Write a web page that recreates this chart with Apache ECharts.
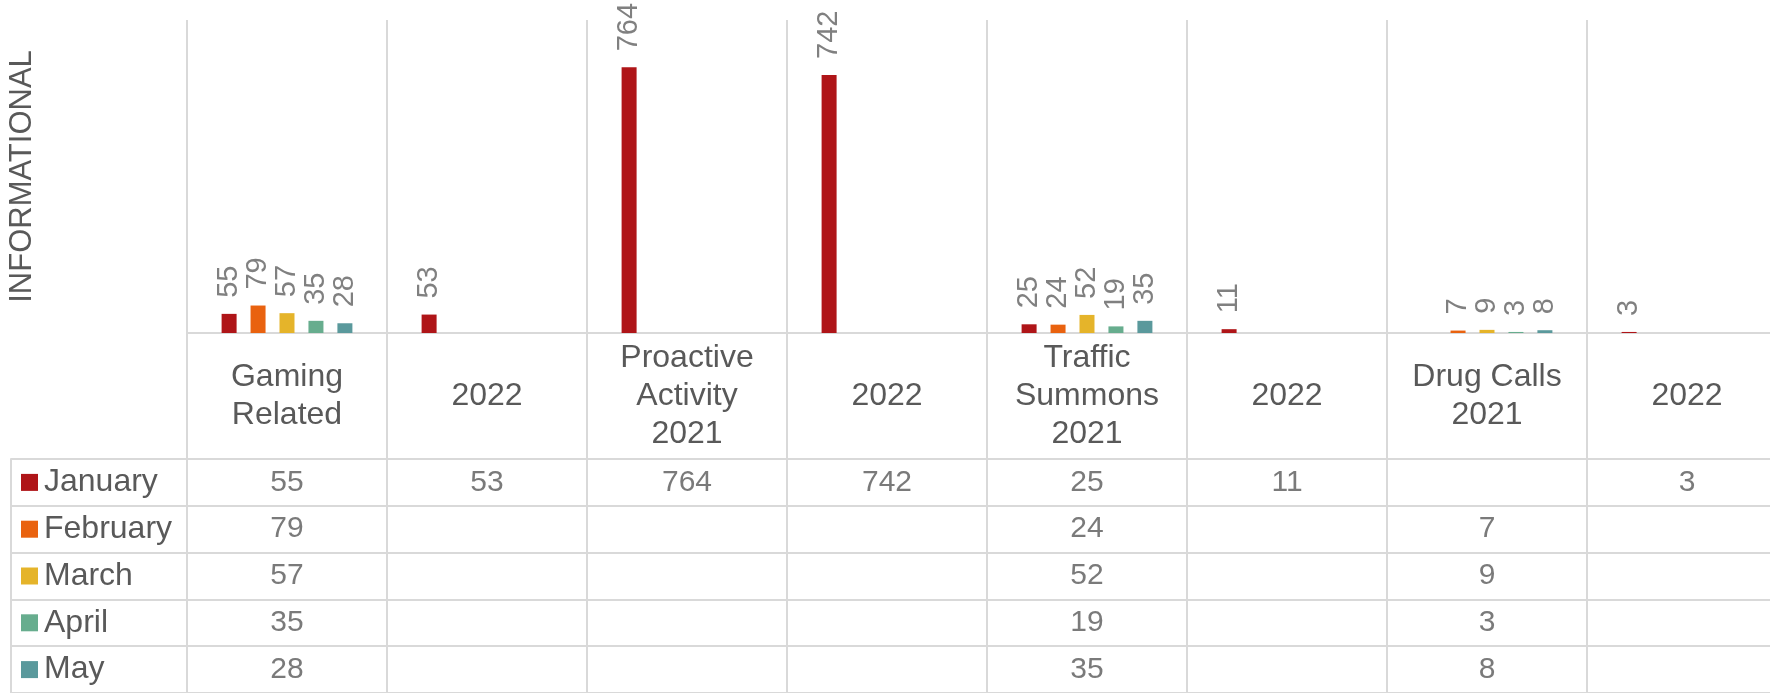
<!DOCTYPE html>
<html>
<head>
<meta charset="utf-8">
<script src="https://cdn.jsdelivr.net/npm/echarts@6/dist/echarts.min.js"></script>
<style>
  html, body { margin: 0; padding: 0; background: #fff; }
  #main { width: 1770px; height: 693px; }
</style>
</head>
<body>
<div id="main"></div>
<script>
// categories along the bottom (text shown under the axis)
var categories = ['Gaming\nRelated', '2022', 'Proactive\nActivity\n2021', '2022',
                  'Traffic\nSummons\n2021', '2022', 'Drug Calls\n2021', '2022'];
var months = ['January', 'February', 'March', 'April', 'May'];

// values per month, one slot per category (null = empty cell)
var january  = [55, 53, 764, 742, 25, 11, null, 3];
var february = [79, null, null, null, 24, null, 7, null];
var march    = [57, null, null, null, 52, null, 9, null];
var april    = [35, null, null, null, 19, null, 3, null];
var may      = [28, null, null, null, 35, null, 8, null];

var monthValues = [january, february, march, april, may];
var colors = ['#AF1518', '#E9620F', '#E5B42A', '#67AD8E', '#5A999C'];

var lineColor = '#d9d9d9';
var textColor = '#595959';
var narrow = '"Liberation Sans Narrow", "Liberation Sans", Arial, sans-serif';
var regular = '"Liberation Sans", Arial, sans-serif';

var myChart = echarts.init(document.getElementById('main'));

// table cells: [categoryIndex, monthIndex, value]
var cells = [];
for (var m = 0; m < monthValues.length; m++) {
  for (var c = 0; c < categories.length; c++) {
    if (monthValues[m][c] != null) cells.push([c, m, monthValues[m][c]]);
  }
}

var rich = {};
for (var i = 0; i < colors.length; i++) {
  rich['s' + i] = { width: 17, height: 17, backgroundColor: colors[i] };
}
rich.t = { fontSize: 32, color: textColor, fontFamily: regular, padding: [0, 0, 0, 6] };

var barSeries = [];
for (var k = 0; k < months.length; k++) {
  barSeries.push({
    name: months[k],
    type: 'bar',
    xAxisIndex: 0,
    yAxisIndex: 0,
    barWidth: 15,
    barGap: '93%',
    itemStyle: { color: colors[k] },
    label: {
      show: true,
      position: 'top',
      rotate: 90,
      align: 'left',
      verticalAlign: 'middle',
      distance: 16,
      fontSize: 29,
      color: '#808080',
      fontFamily: narrow
    },
    data: monthValues[k]
  });
}

var option = {
  animation: false,
  grid: [
    { left: 187, right: -17, top: 20, height: 313, containLabel: false, outerBoundsMode: 'none' },
    { left: 187, right: -17, top: 459, bottom: 0, containLabel: false, outerBoundsMode: 'none' }
  ],
  xAxis: [
    {
      type: 'category',
      gridIndex: 0,
      data: categories,
      axisLine: { lineStyle: { color: lineColor, width: 2 } },
      axisTick: { show: true, length: 126, lineStyle: { color: lineColor, width: 2 } },
      splitLine: { show: true, lineStyle: { color: lineColor, width: 2 } },
      axisLabel: {
        interval: 0,
        margin: 63,
        verticalAlign: 'middle',
        fontSize: 32,
        lineHeight: 38,
        color: textColor,
        fontFamily: regular
      }
    },
    {
      type: 'category',
      gridIndex: 1,
      position: 'top',
      data: categories,
      axisLine: { show: true, lineStyle: { color: lineColor, width: 2 } },
      axisTick: { show: false },
      axisLabel: { show: false },
      splitLine: { show: true, lineStyle: { color: lineColor, width: 2 } }
    }
  ],
  yAxis: [
    {
      type: 'value',
      gridIndex: 0,
      min: 0,
      max: 900,
      axisLine: { show: false },
      axisTick: { show: false },
      axisLabel: { show: false },
      splitLine: { show: false },
      name: 'INFORMATIONAL',
      nameLocation: 'middle',
      nameGap: 149,
      nameTextStyle: { fontSize: 31, color: textColor, fontFamily: regular }
    },
    {
      type: 'category',
      gridIndex: 1,
      inverse: true,
      data: months,
      axisLine: { show: true, lineStyle: { color: lineColor, width: 2 } },
      axisTick: { show: true, length: 176, lineStyle: { color: lineColor, width: 2 } },
      splitLine: { show: true, lineStyle: { color: lineColor, width: 2 } },
      axisLabel: {
        align: 'left',
        margin: 166,
        formatter: function (value, index) {
          return '{s' + index + '|}{t|' + value + '}';
        },
        rich: rich
      }
    },
    {
      type: 'category',
      gridIndex: 1,
      position: 'left',
      offset: 176,
      data: months,
      axisLine: { show: true, lineStyle: { color: lineColor, width: 2 } },
      axisTick: { show: false },
      axisLabel: { show: false }
    }
  ],
  series: barSeries.concat([
    {
      type: 'scatter',
      xAxisIndex: 1,
      yAxisIndex: 1,
      symbolSize: 0,
      silent: true,
      label: {
        show: true,
        position: 'inside',
        fontSize: 30,
        color: textColor,
        fontFamily: narrow,
        formatter: function (p) { return p.value[2]; }
      },
      data: cells
    }
  ])
};

myChart.setOption(option);
</script>
</body>
</html>
